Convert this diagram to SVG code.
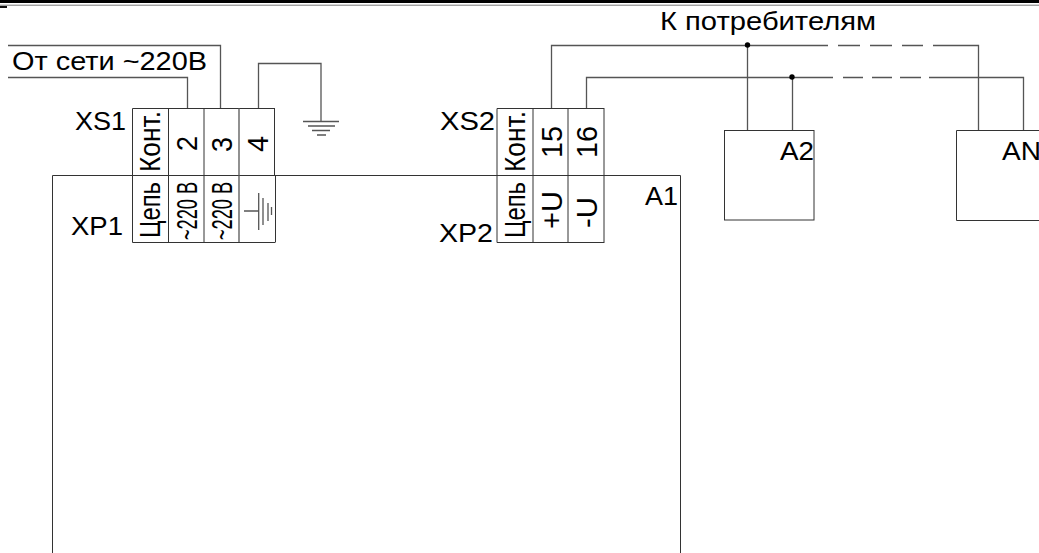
<svg xmlns="http://www.w3.org/2000/svg" width="1039" height="553" viewBox="0 0 1039 553">
<style>
text{font-family:"Liberation Sans",Arial,sans-serif;fill:#000}
.l{font-size:26px}
.c{font-size:30px}
.w{fill:none;stroke:#555;stroke-width:1.3}
.d{fill:none;stroke:#333;stroke-width:1}
</style>
<rect width="1039" height="553" fill="#fff"/>
<g id="sheet-border"><rect x="0" y="0" width="1039" height="3" fill="#000"/><line x1="0" y1="5.200" x2="1039" y2="5.200" stroke="#777" stroke-width="1"/><rect x="0" y="6" width="7" height="2" fill="#111"/></g>
<g id="connectors">
<path class="w" d="M8 45.500H220.500V108M8 77.500H187.500V108M258.500 108V63.500H321V121"/>
<path class="w" d="M551.500 108V45.500H828M838 45.500H860M870 45.500H892M902 45.500H923M933 45.500H978.500V130"/>
<path class="w" d="M586.500 108V77.500H833M843 77.500H863M872 77.500H892M900 77.500H921M929 77.500H1023.500V130"/>
<path class="w" d="M747.500 45.500V130M792.500 77.500V130"/>
<circle cx="747.500" cy="45" r="2.700" fill="#000"/><circle cx="792" cy="77" r="2.700" fill="#000"/>
</g>
<g id="ground"><path class="w" d="M303 121.500H339M308 126H335M312 130.500H330M317 135H326"/></g>
<g id="A1"><path class="d" d="M52.500 553V175.500H680.500V553"/><text class="l" x="645" y="205" textLength="33" lengthAdjust="spacingAndGlyphs">A1</text></g>
<g id="XS1-XP1">
<path class="d" d="M132.500 108.500H275M132.500 108.500V242.500H275.500M168.500 108V242M204 108V242M274.500 108V175.500M275.500 175V242"/>
<path class="w" d="M239 108V242"/>
<text class="l" x="75" y="130" textLength="51" lengthAdjust="spacingAndGlyphs">XS1</text><text class="l" x="71" y="235" textLength="52" lengthAdjust="spacingAndGlyphs">XP1</text>
<text class="c" transform="translate(160 172) rotate(-90)" textLength="61" lengthAdjust="spacingAndGlyphs">Конт.</text>
<text class="c" transform="translate(197 151) rotate(-90)" textLength="15" lengthAdjust="spacingAndGlyphs">2</text>
<text class="c" transform="translate(232 152) rotate(-90)" textLength="15" lengthAdjust="spacingAndGlyphs">3</text>
<text class="c" transform="translate(268 152) rotate(-90)" textLength="16" lengthAdjust="spacingAndGlyphs">4</text>
<text class="c" transform="translate(160 238) rotate(-90)" textLength="56" lengthAdjust="spacingAndGlyphs">Цепь</text>
<text class="c" transform="translate(197 240) rotate(-90)" textLength="58" lengthAdjust="spacingAndGlyphs">~220 В</text>
<text class="c" transform="translate(232 240) rotate(-90)" textLength="58" lengthAdjust="spacingAndGlyphs">~220 В</text>
<path class="w" d="M244 211H259M258.700 193V230M263 198V225M268 203V221M271.500 207V215"/>
</g>
<g id="XS2-XP2">
<path class="d" d="M497 108.500H604M497 108.500V242.500H604.500M533 108V242M568 108V242M604 108V242"/>
<text class="l" x="440" y="130" textLength="55" lengthAdjust="spacingAndGlyphs">XS2</text><text class="l" x="439" y="242" textLength="54" lengthAdjust="spacingAndGlyphs">XP2</text>
<text class="c" transform="translate(525 172) rotate(-90)" textLength="61" lengthAdjust="spacingAndGlyphs">Конт.</text>
<text class="c" transform="translate(562 158) rotate(-90)" textLength="32" lengthAdjust="spacingAndGlyphs">15</text>
<text class="c" transform="translate(597 158) rotate(-90)" textLength="32" lengthAdjust="spacingAndGlyphs">16</text>
<text class="c" transform="translate(525 238) rotate(-90)" textLength="56" lengthAdjust="spacingAndGlyphs">Цепь</text>
<text class="c" transform="translate(562 229) rotate(-90)" textLength="38" lengthAdjust="spacingAndGlyphs">+U</text>
<text class="c" transform="translate(597 228) rotate(-90)" textLength="31" lengthAdjust="spacingAndGlyphs">-U</text>
</g>
<g id="A2"><rect class="d" x="724.500" y="130.500" width="89.500" height="89.500"/><text class="l" x="780" y="160" textLength="34" lengthAdjust="spacingAndGlyphs">A2</text></g>
<g id="AN"><path class="d" d="M1039 130.500H956.500V220.500H1039"/><text class="l" x="1002" y="160" textLength="39" lengthAdjust="spacingAndGlyphs">AN</text></g>
<g id="labels"><text class="l" x="12" y="70" textLength="195" lengthAdjust="spacingAndGlyphs">От сети ~220В</text><text class="l" x="660" y="30" textLength="216" lengthAdjust="spacingAndGlyphs">К потребителям</text></g>
</svg>
